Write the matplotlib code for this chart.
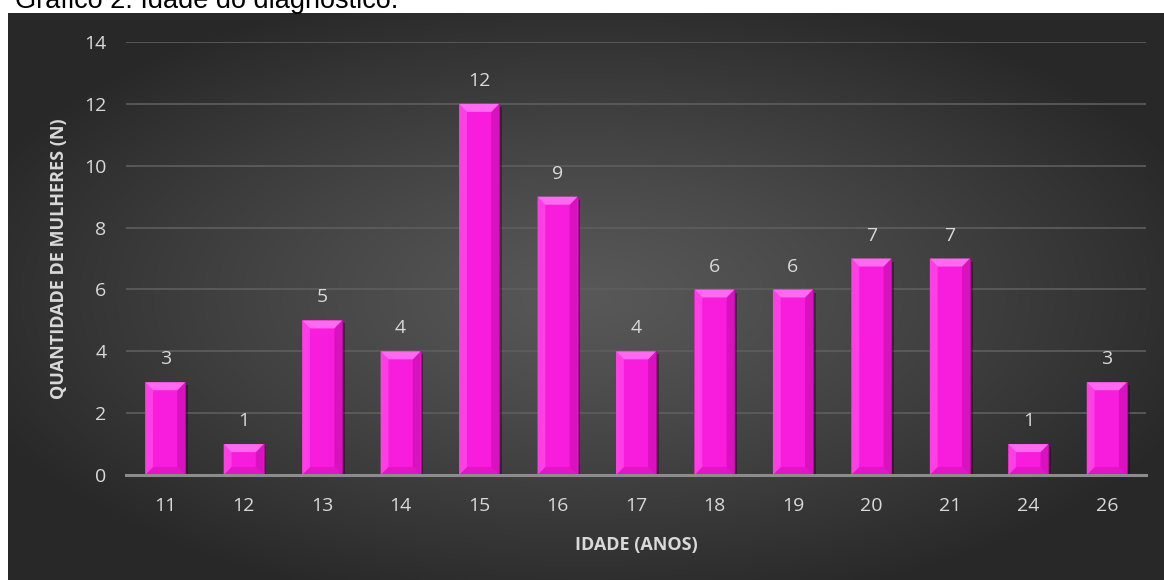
import numpy as np
import matplotlib
matplotlib.use("Agg")
import matplotlib.pyplot as plt
from matplotlib.patches import Polygon

ages = ["11", "12", "13", "14", "15", "16", "17", "18", "19", "20", "21", "24", "26"]
counts = [3, 1, 5, 4, 12, 9, 4, 6, 6, 7, 7, 1, 3]
yticks = [0, 2, 4, 6, 8, 10, 12, 14]

W, H = 1164, 580
fig = plt.figure(figsize=(W / 100, H / 100), dpi=100)
fig.patch.set_facecolor("white")

# Title (clipped at the top edge as in the reference)
fig.text(15 / W, 1 - 8 / H, "Gráfico 2: Idade do diagnóstico.", fontsize=19.5,
         family="Liberation Sans", color="black", va="baseline", ha="left")

# Background panel with radial gradient
bg = fig.add_axes([8 / W, 0, 1 - 8 / W, 1 - 13 / H])
bg.set_axis_off()
nx, ny = 400, 200
xx, yy = np.meshgrid(np.linspace(0, 1, nx), np.linspace(0, 1, ny))
cx, cy = 0.5, 0.5
r = np.sqrt(((xx - cx) / 0.75) ** 2 + ((yy - cy) / 0.75) ** 2)
r = np.clip(r / 0.75, 0, 1)
val = 0.345 - (0.345 - 0.16) * r ** 1.2
img = np.dstack([val, val, val])
bg.imshow(img, aspect="auto", extent=[0, 1, 0, 1], origin="lower", interpolation="bilinear")
bg.set_xlim(0, 1)
bg.set_ylim(0, 1)

ax = fig.add_axes([126 / W, 105 / H, (1146 - 126) / W, (475 - 42) / H])
ax.patch.set_alpha(0)
x = np.arange(len(ages))
ax.set_xlim(-0.5, len(ages) - 0.5)
ax.set_ylim(0, 14)

bw = 0.51
# shadow
ax.bar(x + 0.035, counts, width=bw, bottom=-0.1, color="black", alpha=0.35, zorder=2)
ax.bar(x, counts, width=bw, color="#f81cdc", edgecolor="#a8108f",
       linewidth=0.8, zorder=3)

# bevel facets (sizes in data units, about 8 px)
dx, dy = 0.1, 0.26
for xi, c in zip(x, counts):
    l, rr = xi - bw / 2, xi + bw / 2
    top = Polygon([(l, c), (rr, c), (rr - dx, c - dy), (l + dx, c - dy)],
                  closed=True, facecolor="#ff6af0", edgecolor="none", zorder=4)
    bot = Polygon([(l, 0), (rr, 0), (rr - dx, dy), (l + dx, dy)],
                  closed=True, facecolor="#e414c8", edgecolor="none", zorder=4)
    left = Polygon([(l, 0), (l, c), (l + dx, c - dy), (l + dx, dy)],
                   closed=True, facecolor="#ff3ee6", edgecolor="none", zorder=4)
    right = Polygon([(rr, 0), (rr, c), (rr - dx, c - dy), (rr - dx, dy)],
                    closed=True, facecolor="#d812be", edgecolor="none", zorder=4)
    for p in (bot, left, right, top):
        ax.add_patch(p)
    ax.text(xi, c + 0.45, str(c), ha="center", va="bottom", fontsize=14,
            color="#d9d9d9", family="Open Sans")

ax.set_yticks(yticks)
ax.set_xticks(x)
ax.set_xticklabels(ages)
ax.grid(axis="y", color="#5e5e5e", linewidth=1.2, zorder=0)
ax.set_axisbelow(True)
for s in ["top", "right", "left"]:
    ax.spines[s].set_visible(False)
ax.spines["bottom"].set_color("#8c8c8c")
ax.spines["bottom"].set_linewidth(2.2)
ax.spines["bottom"].set_zorder(5)
ax.tick_params(axis="both", length=0, labelcolor="#d9d9d9", labelsize=14)
ax.tick_params(axis="x", pad=16)
ax.tick_params(axis="y", pad=14)
for lab in ax.get_xticklabels() + ax.get_yticklabels():
    lab.set_family("Open Sans")

ax.set_xlabel("IDADE (ANOS)", fontsize=13, fontweight="bold", color="#d9d9d9",
              family="Open Sans", labelpad=15)
ax.set_ylabel("QUANTIDADE DE MULHERES (N)", fontsize=13, fontweight="bold",
              color="#d9d9d9", family="Open Sans", labelpad=12)

fig.savefig("out.png", dpi=100, facecolor=fig.get_facecolor())
